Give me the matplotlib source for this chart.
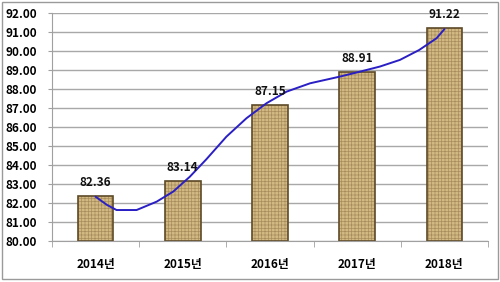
import numpy as np
import matplotlib
matplotlib.use("Agg")
import matplotlib.pyplot as plt
from matplotlib.patches import Rectangle

plt.rcParams['font.family'] = ['Noto Sans CJK KR', 'DejaVu Sans']
plt.rcParams['hatch.linewidth'] = 0.5

years = ['2014년', '2015년', '2016년', '2017년', '2018년']
values = [82.36, 83.14, 87.15, 88.91, 91.22]

# trend curve (category position, value)
trend_x = [0.00, 0.13, 0.24, 0.47, 0.70, 0.89, 1.08, 1.27, 1.50, 1.73,
           1.96, 2.19, 2.46, 2.80, 3.03, 3.26, 3.49, 3.71, 3.91, 4.00]
trend_y = [82.33, 81.90, 81.63, 81.63, 82.07, 82.60, 83.38, 84.30, 85.49, 86.46,
           87.25, 87.86, 88.30, 88.65, 88.91, 89.18, 89.53, 90.05, 90.67, 91.15]

fig = plt.figure(figsize=(5, 2.82), dpi=100)
ax = fig.add_axes([0.104, 0.1454, 0.872, 0.8086])

x = np.arange(len(years))
bars = ax.bar(x, [v - 80 for v in values], bottom=80, width=0.41,
              color='#d2b883', edgecolor='#5e4a28', linewidth=1.2,
              hatch='+++++', zorder=2)
for b in bars:
    b._hatch_color = matplotlib.colors.to_rgba('#a88d5c')

ax.plot(trend_x, trend_y, color='#2a1fc4', lw=1.4, zorder=3,
        solid_joinstyle='round', solid_capstyle='round')

for xi, v in zip(x, values):
    ax.annotate(f'{v:.2f}', (xi, v), xytext=(0, 5), textcoords='offset points',
                ha='center', va='bottom', fontsize=8.5, fontweight='bold', color='#111111')

ax.set_xlim(-0.5, 4.5)
ax.set_ylim(80, 92)
ax.set_yticks(np.arange(80, 93, 1))
ax.set_yticklabels([f'{t:.2f}' for t in range(80, 93)], fontsize=8.5, fontweight='bold')
ax.set_xticks(x)
ax.set_xticklabels(years, fontsize=8.5, fontweight='bold')
ax.set_xticks(np.arange(-0.5, 5, 1), minor=True)
ax.tick_params(axis='x', which='major', length=0, pad=12)
ax.tick_params(axis='x', which='minor', length=4, color='#a0a0a0')
ax.tick_params(axis='y', length=3, color='#a0a0a0', pad=8)

ax.grid(axis='y', color='#a8a8a8', lw=1.0, zorder=0)
ax.set_axisbelow(True)
for s in ['top', 'right']:
    ax.spines[s].set_visible(False)
ax.spines['left'].set_color('#a0a0a0')
ax.spines['bottom'].set_color('#a0a0a0')

fig.patches.append(Rectangle((0.004, 0.012), 0.992, 0.982, transform=fig.transFigure,
                             fill=False, edgecolor='#9a9a9a', lw=1.0))

fig.savefig('out.png', dpi=100)
